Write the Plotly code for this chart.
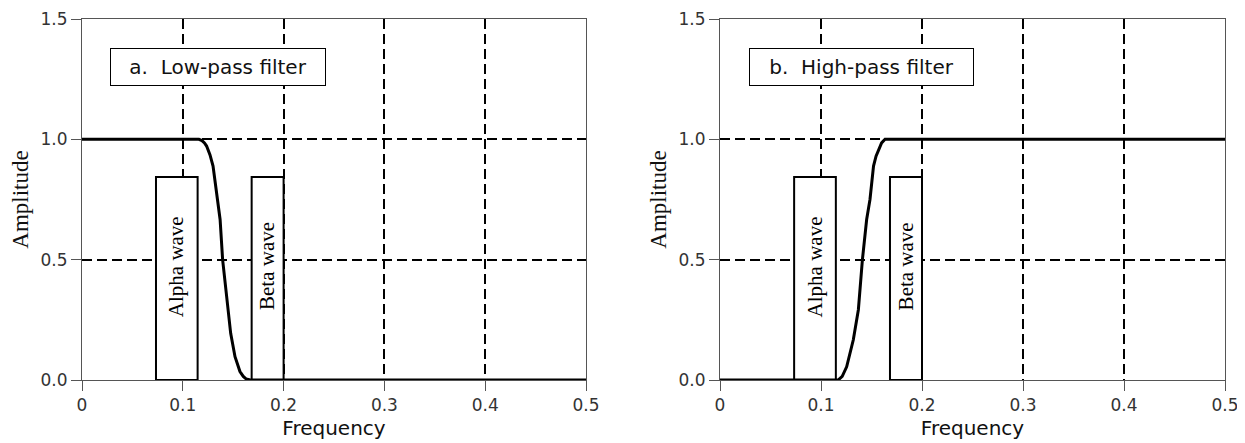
import plotly.graph_objects as go

# ---- data ----
freq_lowpass = [0, 0.116, 0.119, 0.1215, 0.1236, 0.127, 0.130, 0.134, 0.137, 0.1395, 0.1435,
                0.1475, 0.1518, 0.1567, 0.160, 0.163, 0.167, 0.5]
amp_lowpass = [1, 1, 0.995, 0.985, 0.972, 0.935, 0.889, 0.75, 0.667, 0.5, 0.333,
               0.194, 0.097, 0.035, 0.015, 0.004, 0, 0]

freq_highpass = [0, 0.117, 0.121, 0.1254, 0.132, 0.137, 0.141, 0.1452, 0.1485,
                 0.152, 0.1545, 0.157, 0.160, 0.1634, 0.5]
amp_highpass = [0, 0, 0.015, 0.055, 0.167, 0.292, 0.5, 0.667, 0.75,
                0.889, 0.93, 0.958, 0.985, 1, 1]

band_names = ["Alpha wave", "Beta wave"]
band_low = [0.0734, 0.1683]
band_high = [0.1147, 0.2]
band_height = 0.843

panel_titles = ["a.  Low-pass filter", "b.  High-pass filter"]
panel_title_x = [0.1346, 0.1399]
panel_title_y = 1.3025
panel_title_w = [214, 223]

x_ticks = [0, 0.1, 0.2, 0.3, 0.4, 0.5]
x_ticklabels = ["0", "0.1", "0.2", "0.3", "0.4", "0.5"]
y_ticks = [0.0, 0.5, 1.0, 1.5]
y_ticklabels = ["0.0", "0.5", "1.0", "1.5"]

# the page body has an 8px margin; the figure is sized to fill the rest of the window
OFF = 8
W, H = 1245 - OFF, 443 - OFF
fig = go.Figure()

curves = [(freq_lowpass, amp_lowpass), (freq_highpass, amp_highpass)]
axis_ids = [("x", "y"), ("x2", "y2")]

for i, ((fx, fy), (xa, ya)) in enumerate(zip(curves, axis_ids)):
    fig.add_trace(go.Scatter(x=fx, y=fy, mode="lines", xaxis=xa, yaxis=ya,
                             line=dict(color="black", width=3),
                             showlegend=False, hoverinfo="skip"))
    for name, lo, hi in zip(band_names, band_low, band_high):
        fig.add_shape(type="rect", xref=xa, yref=ya, x0=lo, x1=hi, y0=0, y1=band_height,
                      line=dict(color="black", width=2), fillcolor="white", layer="between")
        fig.add_annotation(xref=xa, yref=ya, x=(lo + hi) / 2, y=band_height * 0.56,
                           text=name, textangle=-90, showarrow=False,
                           font=dict(family="Liberation Serif", size=21, color="black"))
    fig.add_annotation(xref=xa, yref=ya, x=panel_title_x[i], y=panel_title_y,
                       text=panel_titles[i], showarrow=False,
                       width=panel_title_w[i], height=36, borderpad=0,
                       bordercolor="black", borderwidth=1, bgcolor="white",
                       font=dict(family="DejaVu Sans", size=20, color="#111"))

def xaxis_style(domain, anchor):
    return dict(domain=domain, anchor=anchor, range=[0, 0.5],
                tickvals=x_ticks, ticktext=x_ticklabels,
                ticks="outside", ticklen=10, tickcolor="#555", tickwidth=1,
                showline=True, linecolor="#555", linewidth=1, mirror=True,
                showgrid=True, gridcolor="black", gridwidth=2, griddash="10px,5px",
                zeroline=False, tickfont=dict(family="DejaVu Sans", size=17, color="#333"),
                title=dict(text="Frequency", standoff=6,
                           font=dict(family="DejaVu Sans", size=20, color="#111")))

def yaxis_style(anchor):
    return dict(domain=[0, 1], anchor=anchor, range=[0, 1.5],
                tickvals=y_ticks, ticktext=y_ticklabels,
                ticks="outside", ticklen=10, tickcolor="#555", tickwidth=1,
                showline=True, linecolor="#555", linewidth=1, mirror=True,
                showgrid=True, gridcolor="black", gridwidth=2, griddash="10px,5px",
                zeroline=False, tickfont=dict(family="DejaVu Sans", size=17, color="#333"),
                title=dict(text="Amplitude", standoff=5,
                           font=dict(family="Liberation Serif", size=23, color="#111")))

fig.update_layout(
    width=W, height=H,
    margin=dict(l=0, r=0, t=19 - OFF, b=63),
    paper_bgcolor="white", plot_bgcolor="white",
    xaxis=xaxis_style([(82 - OFF) / W, (586 - OFF) / W], "y"),
    yaxis=yaxis_style("x"),
    xaxis2=xaxis_style([(720 - OFF) / W, (1225 - OFF) / W], "y2"),
    yaxis2=yaxis_style("x2"),
)
for ax in ["xaxis", "yaxis", "xaxis2", "yaxis2"]:
    fig.layout[ax].automargin = False

fig.write_html("out.html")
